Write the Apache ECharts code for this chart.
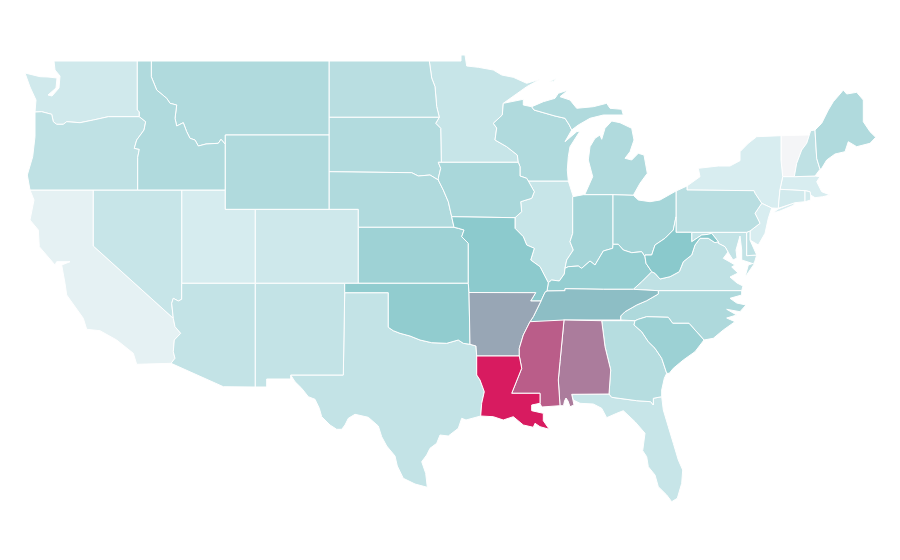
<!DOCTYPE html>
<html>
<head>
<meta charset="utf-8">
<style>html,body{margin:0;padding:0;background:#fff}#c{width:900px;height:560px}</style>
<script src="https://cdn.jsdelivr.net/npm/echarts@6/dist/echarts.min.js"></script>
</head>
<body>
<div id="c"></div>
<script>
// Values, on a relative 0-100 colour scale
const stateNames = ["Vermont","California","Massachusetts","New York","New Jersey","Utah","Connecticut","Rhode Island","Washington","Colorado","Nevada","Florida","Illinois","Minnesota","Texas","Arizona","New Mexico","Maryland","Virginia","Oregon","New Hampshire","Delaware","North Dakota","Pennsylvania","Georgia","South Dakota","Nebraska","Montana","Idaho","Wyoming","Maine","Wisconsin","Michigan","North Carolina","Iowa","Indiana","Ohio","Kansas","South Carolina","Kentucky","Oklahoma","Missouri","West Virginia","Tennessee","Arkansas","Alabama","Mississippi","Louisiana"];
const stateValues = [0,7,13,13,13,14,16,16,17,18,21,21,21,21,23,23,23,23,25,25,25,25,28,28,29,31,32,32,32,32,32,32,32,33,35,37,37,40,41,44,46,48,49,53,60,72,81,100];
const scaleColors = ["#f4f5f7","#d9eef0","#bfe1e4","#a4d4d7","#88c8cb","#9c9db0","#b07296","#c4467b","#d81b60"];

// Traced outlines: shared borders in a planar map unit
const p = s => s.trim().split(/\s+/).map(t => t.split(",").map(Number));
const r = a => [...a].reverse();
const coastWA = p("54,61 55,70 60,76 59,88 52,96 48,95 56,88 57,78 48,77 40,76.7 25,73 30,87 36,100 35,112");
const columbia = p("35,112 41.7,111.7 51.7,114.3 53.3,121.7 56.7,124.3 63.3,124.3 66.7,121.7 80,122.7 93.3,120 108.3,116.7 139.3,116.7");
const waId = p("137.3,61 137.3,110 139.3,111.7 139.3,116.7");
const orId = p("139.3,116.7 145.7,121.7 144,130 136.7,140 134.3,148.3 139.3,149.3 137.7,157.3 137.7,190");
const orCoast = p("35,112 35,136.7 32.7,156.7 27.3,175 30,190");
const idMt = p("151.3,61 151.3,76.7 156.7,90 166.7,98.3 170,103.3 176.7,105 175,118.3 176.7,126 183.3,122.7 186.7,131.7 190,138.3 195,140 198.3,146 206,144 218.3,143.3 221,139.3 225.3,144.3");
const caNv = p("93.3,190 93.3,246 173.3,318.3");
const colorado = p("173.3,318.3 175,326.7 180.7,333.3 174.3,340 173.3,351.7 175,358.3 171,363.3");
const nvAz = p("181.7,283.3 181.7,299.3 178.3,301 173.3,298.3 171.7,303.3 173.3,318.3");
const caCoast = p("30,190 34,200 30,220 38.3,230 39.3,246.7 55,265 56.7,261.7 70,261.7 61.7,265 63.3,274 65,283.3 66.7,295 83.3,318.3 86.7,329.3 100,330.7 116.7,340 133.3,353.3 136.7,364.3");
const mnDak = p("429.3,61 431.7,78 435,86.7 436.7,106.7 439.3,117.3 435.7,123.3 440.7,128.3 441.3,162.3");
const sdNe = p("329,171.7 411.7,172.7 418.3,176 430,175 438.3,180");
const sdIa = p("438.3,162.3 440.7,168.3 438.3,178.3 438.3,180");
const neIa = p("438.3,180 443.3,190 448.3,201.7 451.7,216.7");
const moKs = p("454,227.3 458.3,228.3 464,230 461.7,236.7 468.3,243.3 468.3,283.3");
const mnWi = p("503.3,103.3 502.3,115 493.3,123.3 496.7,128 495,140 506.7,146.7 517.3,155 518.3,162.3");
const wiIa = p("518.3,162.3 520,166.7 520,176 526.7,178.3 528.3,181");
const iaIl = p("528.3,181 534.3,191.7 531.7,198.3 520.7,201.7 521.7,211.7 515,217.7");
const miWi = p("531.7,106.7 534,110 555,116 565,118.3 569.3,125 571.7,130");
const ilIn = p("572.7,196.7 572.7,233.3 570,241.7 573.3,250 566.7,260 565,268.3");
const ilKy = p("565,268.3 564.3,274 559.3,281 551.7,280 548.3,282.7");
const ilMo = p("548.3,282.7 544.3,275 540,266.7 530.7,260 534.3,248.3 526.7,245 523.3,236.7 515,228.3 515,217.7");
const ohio = p("565,268.3 568.3,266.7 578.3,266 581.7,268.3 590,261 595,265 603.3,251 612.7,248.3 613,244.3");
const kyOh = p("613,244.3 618.3,244.3 623.3,250 631.7,252.7 641.7,251.7 645,256.7");
const ohWv = p("676,216.7 673.3,230 665,238.3 655,245 651.7,255 645,255 645,256.7");
const kyWv = p("645,256.7 646,263.3 651.7,271.7");
const kyVa = p("651.7,271.7 641.7,281.7 633.3,289.3");
const wvVa = p("718.3,241.7 715,242.7 708.3,238.3 700,238.3 695,245 691.7,255 683.3,261.7 679.3,271.7 670,276.7 660,279 655,273.3 651.7,271.7");
const wvMd = p("691.7,232.3 691.7,241.7 701.7,235 708.3,234.3 711.7,233.3 718.3,241.7");
const moAr = p("469,292.5 535.7,292.7 530.7,301 541,301");
const arMs = p("541,301 533.3,316.7 530,321.7 523.3,335 519.3,348.3 519.3,356");
const redRiver = p("470,344.3 463.3,343.3 458.3,340 446.7,343.3 431.7,342.7 420,340 410,336 400,333.3 393.3,330.7 388.3,327.3");
const txLa = p("476.7,356 476.7,375 480,380 484.3,391.7 481.7,403.3 480.7,416");
const laMs = p("519.3,356 521.7,368.3 511.7,393.3 540,393.3 540,403.3 541.7,407");
const msAl = p("564,320 560,361.7 558.3,380 560,405.7");
const alGa = p("601.7,320.7 605,346.7 610.7,370 609,394");
const gaSc = p("635,320.7 634,325 641.7,331.7 648.3,341.7 655,348.3 661.7,358.3 666.7,373.3");
const ncSc = p("635,320.7 638.3,319.3 646.7,316.7 668.3,317.3 672.7,323.3 689,323.3 704,340");
const gaFl = p("609,394 611.7,397.3 636.7,400.7 650.7,401.7 653.3,405 653.3,398.3 661.7,396.7");
const tnNc = p("658.3,290.7 658.3,294 646.7,300.7 636.7,305 625,311.7 620.7,316 620.7,320");
const paNj = p("755,193.3 761.7,203.3 755,213.3 760,223.3 750,231");
const nyPa = p("687,186 687,190 754,190.7 755,193.3");
const vtNy = p("781,135.7 781,160 782.7,176.7");
const vtNh = p("809.3,135 806.7,143.3 801.7,150 796.7,163.3 794.3,176.7");
const nhMe = p("815,130 816.7,158.3 820,169.3");
const nyNe = p("782.7,176.7 780,189.3 779,200 778.3,208.3");
const txCoast = p("466,420 461.7,418.3 458.3,428.3 448.3,436 440,435 436.7,443.3 430,448.3 426.7,455 421.7,461.7 425.7,473.3 427.3,487.3 415,484 403.3,478.3 397.3,466 395,456 386.7,446 381.7,436.7 378.3,426 368.3,417.3 355,414.3 348.3,418.3 345,425 341.7,429.3 336.7,429.3 330,425 321.7,416.7 319.3,408.3 315,399.3 308.3,396.7 301.7,388.3 295,381.7 290.7,375");

const rings = {
  "Washington": [[[54,61],...waId,...r(columbia),...r(coastWA)]],
  "Oregon": [[...columbia,...orId,...r(orCoast)]],
  "Idaho": [[...waId.slice(0,1),...idMt,[225.3,190],...r(orId),...r(waId)]],
  "Montana": [[...idMt,[225.3,135],[329,135],[329,61]]],
  "Wyoming": [p("225.3,135 329,135 329,209.3 225.3,209.3")],
  "California": [[[30,190],...caNv,...colorado,[136.7,364.3],...r(caCoast)]],
  "Nevada": [[[93.3,190],[181.7,190],...nvAz,...r(caNv)]],
  "Utah": [p("181.7,190 225.3,190 225.3,209.3 255.3,209.3 255.3,283.3 181.7,283.3")],
  "Colorado": [p("255.3,209.3 358.3,209.3 358.3,283.3 255.3,283.3")],
  "Arizona": [[[181.7,283.3],[255.3,283.3],[255.3,387],[223.3,386.7],...r(colorado),...r(nvAz).slice(1)]],
  "New Mexico": [p("255.3,283.3 344.7,283.3 344.7,292.7 343.3,375 290.7,375 290.7,379 266.7,379 266.7,387 255.3,387")],
  "Texas": [[...p("344.7,292.7 388.3,292.7"),...r(redRiver),...p("476,346"),...txLa,...txCoast,...p("343.3,375")]],
  "Oklahoma": [[...p("344.7,283.3 468.3,283.3 469,292.5"),...redRiver,...p("388.3,292.7 344.7,292.7")]],
  "Kansas": [[[358.3,227.3],...moKs,[358.3,283.3]]],
  "Nebraska": [[...sdNe,...neIa,...p("454,227.3 358.3,227.3 358.3,209.3 329,209.3")]],
  "South Dakota": [[[329,117.3],...mnDak.slice(4),...sdIa,...r(sdNe)]],
  "North Dakota": [[[329,61],...mnDak.slice(0,5),[329,117.3]]],
  "Minnesota": [[...p("429.3,61 461,61 461,55 465,55 466.7,66 478.3,67.3 493.3,70 501.7,75 513.3,77.3 526.7,83.3 540,79.3 526.7,86.7"),...mnWi,...r(sdIa).slice(-1),...r(mnDak)]],
  "Iowa": [[...sdIa.slice(0,1),...wiIa,...iaIl,[451.7,216.7],...r(neIa),...r(sdIa).slice(0,-1)]],
  "Missouri": [[[451.7,216.7],[515,217.7],...r(ilMo),...p("547,291 545,292.3 541,301"),...r(moAr),[468.3,283.3],...r(moKs),[451.7,216.7]]],
  "Wisconsin": [[...mnWi,...wiIa.slice(1),...p("568.3,181 567.3,170 568.3,156.7 570,146.7 580,131 576.7,131.7 565,141.7"),...r(miWi),...p("523.3,105 523.3,99.3")]],
  "Michigan": [[...miWi,...p("578.3,125 590,118.3 603.3,115 623.3,115 621.7,109.3 610,108.3 606.7,103.3 593.3,106.7 576.7,108.3 570,100 560,96.7 568.3,90 558.3,93.3 555,98.3 543.3,101.7")],
    p("585,194 592.7,176.7 588.3,160 590,146.7 595,138.3 600,135 601.7,139.3 605,128.3 611.7,121 620,122.7 631.7,128.3 634,140 630,151.7 625,158.3 631.7,160 638.3,153.3 644,155 647.3,173.3 640,183.3 634,194 633.3,195.3 613,194.7 583.3,194.7"),
    p("549,82 556,78.5 553,81.5")],
  "Illinois": [[[528.3,181],[568.3,181],[573.3,196.7],...ilIn,...ilKy,...ilMo,...r(iaIl)]],
  "Indiana": [[...p("572.7,196.7 583.3,194.7 613,194.7 613,244.3"),...r(ohio),...r(ilIn)]],
  "Ohio": [[...p("613,194.7 633.3,195.3 638.3,200 650,201.7 660,200 676,191"),...ohWv,...r(kyOh)]],
  "Kentucky": [[[548.3,282.7],...r(ilKy),...ohio,...kyOh,...kyWv,...kyVa,...p("603.3,289.3 565,288.7 565,290.7 547,291")]],
  "Tennessee": [[...p("541,301 545,292.3 547,291 565,290.7 565,288.7 603.3,289.3 633.3,289.3"),...tnNc,[564,320],...r(arMs).slice(2)]],
  "West Virginia": [[[676,216.7],[676,232.3],...wvMd,...wvVa,...r(kyWv),...r(ohWv).slice(1)]],
  "Virginia": [[...r(wvVa),...p("718.3,243.3 725,246.7 728,252 723.3,258.3 730,262 735,265 731.7,267 738,273 730,277 737,283 743,286 741.7,290.7 658.3,290.7 633.3,289.3"),...r(kyVa).slice(1)],
    p("748.3,265 755,262.7 745,277.3")],
  "Maryland": [[...wvMd,...p("718.3,243.3 725,246.7 728,252 733,260 737,258 736,250 738,243 740,236 741.7,250 741.7,260 748,262 754,264 756.7,255 746.7,255.7 746.7,232.3")]],
  "Delaware": [p("746.7,232.3 750,231 750,240 756.7,255 746.7,255.7")],
  "Pennsylvania": [[...p("676,191"),...nyPa,...paNj,...p("746.7,232.3 691.7,232.3 676,232.3")]],
  "New Jersey": [p("761.7,203.3 771.7,208 768.3,218.3 765,233.3 758.3,245 750,240 750,231 760,223.3 755,213.3")],
  "New York": [[...p("687,186 700,176.7 698.3,168.3 718.3,166 730,166 740,160.7 740,151.7 748.3,143.3 756.7,136.7"),...vtNy,...nyNe,...p("771.7,208 761.7,203.3 755,193.3 754,190.7 687,190")],
    p("773,213 778,209 796,202 793,205.5 780,211")],
  "Vermont": [[...vtNy,...r(vtNh)]],
  "New Hampshire": [[[809.3,135],[810.7,130.7],...nhMe,[815,176],[794.3,176.7],...r(vtNh).slice(1)]],
  "Maine": [[...nhMe.slice(0,1),...p("821.7,123.3 828.3,110 833.3,101.7 840,94 843.3,90 846.7,94 856.7,92.3 863.3,100 863.3,121.7 870,131.7 875.7,137.3 870,143.3 856.7,146.7 848.3,141.7 845,151.7 835,154 826.7,160 821.7,168.3 820,169.3"),[816.7,158.3]]],
  "Massachusetts": [p("782.7,176.7 794.3,176.7 815,176 820,176.7 816.7,181.7 821.7,191.7 830,195 822.7,196.7 815,197.7 810.7,195 810,191.7 805,190.7 780,189.3")],
  "Connecticut": [p("780,189.3 805,190.7 805,201.7 795,202.7 778.3,208.3 779,200")],
  "Rhode Island": [p("805,190.7 810,191.7 810.7,195 810.7,200 805,201.7")],
  "Arkansas": [[...moAr,...arMs,...p("476.7,356 476,346 470,344.3")]],
  "Louisiana": [[[476.7,356],[519.3,356],...laMs.slice(1,5),...p("531.7,405 531.7,410.7 543.3,413.3 543.3,420.7 549.3,429.3 540,426.7 535,423.3 533.3,427.3 523.3,425 513.3,416.7 503.3,420 493.3,416.7"),...r(txLa)]],
  "Mississippi": [[...p("530,321.7 564,320"),...msAl,[541.7,407],...r(laMs).slice(1),...r(arMs).slice(1,4)]],
  "Alabama": [[[564,320],...alGa,...p("571.7,394.3 574,405 570,406.7 568,401 566,398 564.5,401 563.5,405.7"),...r(msAl)]],
  "Georgia": [[...alGa,...gaFl.slice(1),...p("661.7,390 664.3,378.3"),...r(gaSc)]],
  "Florida": [[[571.7,394.3],...gaFl,...p("663.3,410 668.3,426.7 673.3,443.3 678.3,460 682.7,470 681.7,483.3 677.3,498.3 671.7,501.7 666.7,495 658.3,486.7 655,475 648.3,466.7 646.7,456.7 642.7,450.7 645,433.3 635,421.7 623.3,410.7 616.7,413.3 606.7,417.7 601.7,408.3 593.3,404 580,403.3 573.3,400")]],
  "South Carolina": [[...ncSc,...p("695,351.7 683.3,360 673.3,368.3 669.3,373.3"),...r(gaSc)]],
  "North Carolina": [[...tnNc,[635,320.7],...ncSc.slice(1),...p("713.3,338.3 723.3,330 735,321.7 726.7,318 736.7,315 726.7,309.3 740,311.7 746,305 736.7,303 730,298.3 741.7,295 741.7,290.7")]]
};

const features = stateNames.map(name => ({
  type: "Feature",
  properties: { name },
  geometry: { type: "MultiPolygon", coordinates: rings[name].map(ring => [ring.concat([ring[0]]).map(c => [c[0], -c[1]])]) }
}));
echarts.registerMap("usa", { type: "FeatureCollection", features });

const chart = echarts.init(document.getElementById("c"), null, { renderer: "canvas" });
chart.setOption({
  animation: false,
  backgroundColor: "#ffffff",
  visualMap: { show: false, min: 0, max: 100, inRange: { color: scaleColors } },
  series: [{
    type: "map",
    map: "usa",
    roam: false,
    silent: true,
    aspectScale: 1,
    boundingCoords: [[0, 0], [900, -560]],
    left: 0, top: 0, width: 900, height: 560,
    label: { show: false },
    itemStyle: { borderColor: "#ffffff", borderWidth: 1 },
    data: stateNames.map((name, i) => ({ name, value: stateValues[i] }))
  }]
});
</script>
</body>
</html>
